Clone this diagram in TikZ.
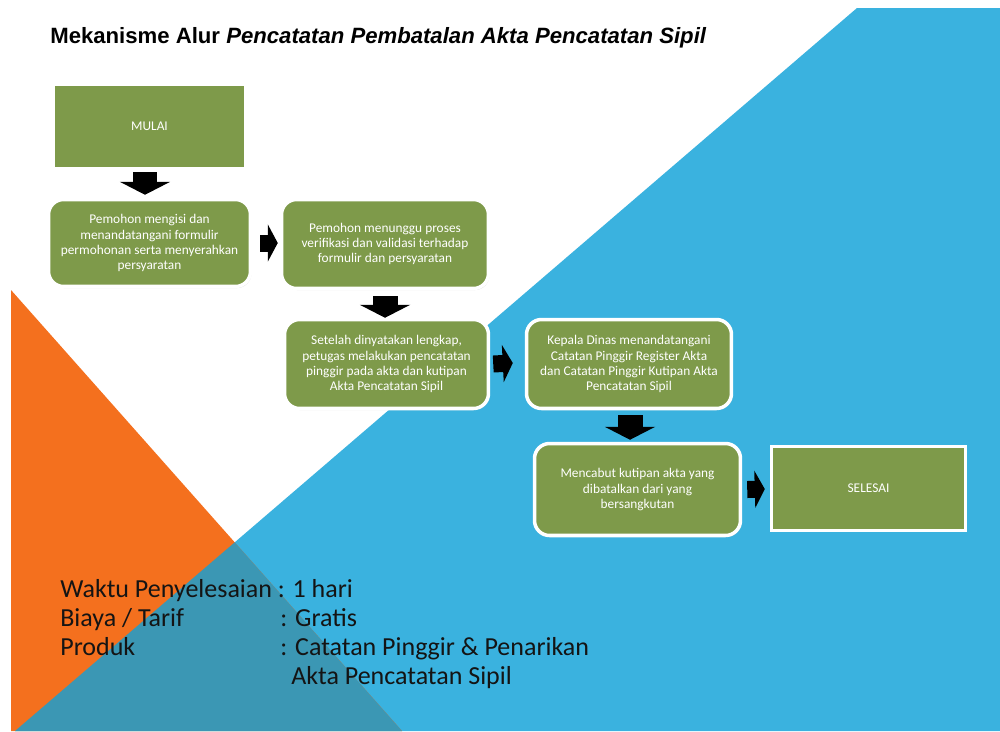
\documentclass[tikz,border=0pt]{standalone}
\usepackage{fontspec}
\setmainfont{Carlito}
\newfontfamily\titlefont{Liberation Sans}
\usetikzlibrary{arrows.meta,shadows}
\definecolor{bgblue}{HTML}{3AB2DF}
\definecolor{bgorange}{HTML}{F4701E}
\definecolor{bgdark}{HTML}{3B97B4}
\definecolor{boxgreen}{HTML}{7E9A4A}
\definecolor{txtdark}{HTML}{141414}
\tikzset{
  flowbox/.style={fill=boxgreen, draw=white, line width=2pt, text=white, align=center,
    font=\fontsize{7.6}{8.6}\selectfont, inner sep=2pt,
    drop shadow={opacity=0.3, shadow xshift=0.6pt, shadow yshift=-0.9pt}},
  roundbox/.style={flowbox, rounded corners=0.3cm},
  squarebox/.style={flowbox},
  downarrow/.style={black, line width=0.5cm, -{Triangle[width=1cm,length=0.26cm]}},
  rightarrow/.style={black, line width=0.34cm, -{Triangle[width=0.74cm,length=0.2cm]}},
  infotext/.style={anchor=base west, text=txtdark, font=\fontsize{14.8}{16}\selectfont, inner sep=0pt},
}
\begin{document}
\begin{tikzpicture}[x=0.02cm, y=-0.02cm]
\useasboundingbox (0,0) rectangle (1000,731);
\fill[white] (0,0) rectangle (1000,731);
% background shapes
\fill[bgblue] (857,8) -- (1000,8) -- (1000,731) -- (15,731) -- cycle;
\fill[bgorange] (11,290) -- (11,731) -- (402,731) -- cycle;
\begin{scope}
  \clip (11,290) -- (11,731) -- (402,731) -- cycle;
  \fill[bgdark] (857,8) -- (1000,8) -- (1000,731) -- (15,731) -- cycle;
\end{scope}
% title
\node[anchor=base west, inner sep=0pt, font={\titlefont\bfseries\fontsize{12.6}{14}\selectfont}] (title) at (50,43)
  {Mekanisme Alur \itshape Pencatatan Pembatalan Akta Pencatatan Sipil};
% boxes
\node[squarebox, minimum width=3.84cm, minimum height=1.68cm] (b1) at (149.5,126.5) {MULAI};
\node[roundbox, minimum width=4.04cm, minimum height=1.74cm] (b2) at (149.5,243)
  {Pemohon mengisi dan\\menandatangani formulir\\permohonan serta menyerahkan\\persyaratan};
\node[roundbox, minimum width=4.14cm, minimum height=1.78cm] (b3) at (385,244)
  {Pemohon menunggu proses\\verifikasi dan validasi terhadap\\formulir dan persyaratan};
\node[roundbox, minimum width=4.08cm, minimum height=1.78cm] (b4) at (386.5,364)
  {Setelah dinyatakan lengkap,\\petugas melakukan pencatatan\\pinggir pada akta dan kutipan\\Akta Pencatatan Sipil};
\node[roundbox, minimum width=4.10cm, minimum height=1.78cm] (b5) at (629,364)
  {Kepala Dinas menandatangani\\Catatan Pinggir Register Akta\\dan Catatan Pinggir Kutipan Akta\\Pencatatan Sipil};
\node[roundbox, minimum width=4.12cm, minimum height=1.84cm] (b6) at (637.5,489.5)
  {Mencabut kutipan akta yang\\dibatalkan dari yang\\bersangkutan};
\node[squarebox, minimum width=3.88cm, minimum height=1.68cm] (b7) at (868.5,488.5) {SELESAI};
% arrows
\draw[downarrow] ([shift={(-4.5,2)}]b1.south) -- ([shift={(-4.5,-3)}]b2.north);
\draw[rightarrow] ([shift={(8,0)}]b2.east) -- ([shift={(-2,-1)}]b3.west);
\draw[downarrow] ([shift={(0,6)}]b3.south) -- ([shift={(-1.5,0)}]b4.north);
\draw[rightarrow] ([shift={(3,0)}]b4.east) -- ([shift={(-12,-1)}]b5.west);
\draw[downarrow] ([shift={(1,5)}]b5.south) -- ([shift={(-7.5,-2)}]b6.north);
\draw[rightarrow] ([shift={(5,0)}]b6.east) -- ([shift={(-5,0.5)}]b7.west);
% info text
\node[infotext] (l1) at (60,597) {Waktu Penyelesaian};
\node[infotext] (v1) at (277.5,597) {: 1 hari};
\node[infotext] (l2) at (60,626) {Biaya / Tarif};
\node[infotext] (v2) at (280,626) {: Gratis};
\node[infotext] (l3) at (60,655) {Produk};
\node[infotext] (v3) at (280,655) {: Catatan Pinggir \& Penarikan};
\node[infotext] (v4) at (291,684) {Akta Pencatatan Sipil};
\end{tikzpicture}
\end{document}
